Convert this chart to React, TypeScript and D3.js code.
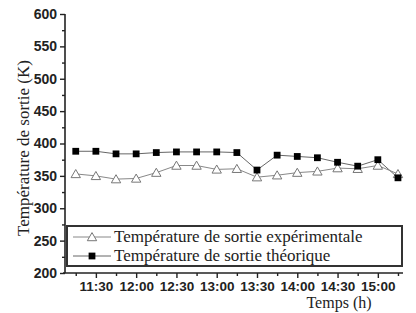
import React, { useEffect, useRef } from "react";
import * as d3 from "d3";

// sample times (h:mm) and measured / computed outlet temperatures (K)
const times = [
  "11:15", "11:30", "11:45", "12:00", "12:15", "12:30", "12:45", "13:00", "13:15",
  "13:30", "13:45", "14:00", "14:15", "14:30", "14:45", "15:00", "15:15",
];
const experimental = [353, 350, 345, 346, 355, 366, 366, 360, 361, 348, 351, 355, 357, 362, 361, 366, 353];
const theoretical = [388, 388, 384, 384, 386, 387, 387, 387, 386, 359, 382, 380, 378, 371, 365, 375, 347];
const xTickLabels = ["11:30", "12:00", "12:30", "13:00", "13:30", "14:00", "14:30", "15:00"];
const yTicks = [200, 250, 300, 350, 400, 450, 500, 550, 600];
const legendLabels = ["Température de sortie expérimentale", "Température de sortie théorique"];

const toMin = (s: string) => {
  const [h, m] = s.split(":").map(Number);
  return h * 60 + m;
};

const width = 416;
const height = 313;
const left = 65;
const right = 402;
const top = 14;
const bottom = 273;

const sansBold = "'Liberation Sans', Arial, sans-serif";
const serif = "'Liberation Serif', 'Times New Roman', serif";

const App = () => {
  const xRef = useRef<SVGGElement>(null);
  const xMinorRef = useRef<SVGGElement>(null);
  const yRef = useRef<SVGGElement>(null);
  const yMinorRef = useRef<SVGGElement>(null);

  const x = d3.scaleLinear().domain([667, 918]).range([left, right]);
  const y = d3.scaleLinear().domain([200, 600]).range([bottom, top]);

  const xMajor = xTickLabels.map(toMin);
  const xMinor = d3.range(675, 918, 30);
  const yMinor = d3.range(225, 600, 50);

  useEffect(() => {
    const styleAxis = (g: any) => {
      g.select(".domain").attr("stroke", "#222").attr("stroke-width", 1.6);
      g.selectAll(".tick line").attr("stroke", "#222").attr("stroke-width", 1.4);
      g.selectAll(".tick text")
        .attr("font-family", sansBold)
        .attr("font-weight", "bold")
        .attr("font-size", 13.5)
        .attr("fill", "#222");
    };

    const xAxis = d3
      .axisBottom(x)
      .tickValues(xMajor)
      .tickSize(5)
      .tickPadding(3)
      .tickFormat((_d, i) => xTickLabels[i]);
    d3.select(xRef.current).call(xAxis as any).call(styleAxis);
    d3.select(xRef.current).select(".domain").attr("d", `M${left - 2},0H${right + 1}`);

    d3.select(xMinorRef.current)
      .call(d3.axisBottom(x).tickValues(xMinor).tickSize(3).tickFormat(() => "") as any)
      .call(styleAxis);
    d3.select(xMinorRef.current).select(".domain").remove();

    const yAxis = d3.axisLeft(y).tickValues(yTicks).tickSize(5).tickPadding(3);
    d3.select(yRef.current).call(yAxis as any).call(styleAxis);
    d3.select(yRef.current).selectAll(".tick text").attr("font-size", 14);
    d3.select(yRef.current).select(".domain").attr("d", `M0,${bottom}V${top}`);

    d3.select(yMinorRef.current)
      .call(d3.axisLeft(y).tickValues(yMinor).tickSize(3).tickFormat(() => "") as any)
      .call(styleAxis);
    d3.select(yMinorRef.current).select(".domain").remove();
  }, []);

  const xs = times.map(toMin);
  const line = d3
    .line<number>()
    .x((_d, i) => x(xs[i]))
    .y((d) => y(d));

  const tri = d3.symbol(d3.symbolTriangle, 38)()!;
  const sq = d3.symbol(d3.symbolSquare, 46)()!;

  const legendX = 67;
  const legendY = 226;
  const legendW = 335;
  const legendH = 40;

  return (
    <svg
      width={width}
      height={height}
      style={{ position: "absolute", left: 0, top: 0, background: "#fff" }}
    >
      <rect width={width} height={height} fill="#fff" />

      <path d={line(theoretical) || ""} fill="none" stroke="#666" strokeWidth={1} />
      <path d={line(experimental) || ""} fill="none" stroke="#888" strokeWidth={1} />

      {experimental.map((v, i) => (
        <path
          key={"e" + i}
          d={tri}
          transform={`translate(${x(xs[i])},${y(v) + 1})`}
          fill="#fff"
          stroke="#777"
          strokeWidth={1}
        />
      ))}
      {theoretical.map((v, i) => (
        <path
          key={"t" + i}
          d={sq}
          transform={`translate(${x(xs[i])},${y(v)})`}
          fill="#000"
        />
      ))}

      {/* legend */}
      <rect
        x={legendX}
        y={legendY}
        width={legendW}
        height={legendH}
        fill="#fff"
        stroke="#333"
        strokeWidth={2}
      />
      {legendLabels.map((lab, i) => {
        const ly = legendY + 11 + i * 19;
        return (
          <g key={lab}>
            <line x1={73} x2={111} y1={ly} y2={ly} stroke={i === 0 ? "#888" : "#666"} strokeWidth={1} />
            {i === 0 ? (
              <path d={tri} transform={`translate(92,${ly + 1})`} fill="#fff" stroke="#777" strokeWidth={1} />
            ) : (
              <path d={sq} transform={`translate(92,${ly})`} fill="#000" />
            )}
            <text
              x={114}
              y={ly + 5}
              fontFamily={serif}
              fontSize={17}
              fill="#222"
            >
              {lab}
            </text>
          </g>
        );
      })}

      <g ref={xMinorRef} transform={`translate(0,${bottom})`} />
      <g ref={xRef} transform={`translate(0,${bottom})`} />
      <g ref={yMinorRef} transform={`translate(${left},0)`} />
      <g ref={yRef} transform={`translate(${left},0)`} />

      <text
        x={339}
        y={308}
        textAnchor="middle"
        fontFamily={serif}
        fontSize={16}
        fill="#222"
      >
        Temps (h)
      </text>
      <text
        transform={`translate(29,148) rotate(-90)`}
        textAnchor="middle"
        fontFamily={serif}
        fontSize={17}
        fill="#222"
      >
        Température de sortie (K)
      </text>
    </svg>
  );
};

export default App;
